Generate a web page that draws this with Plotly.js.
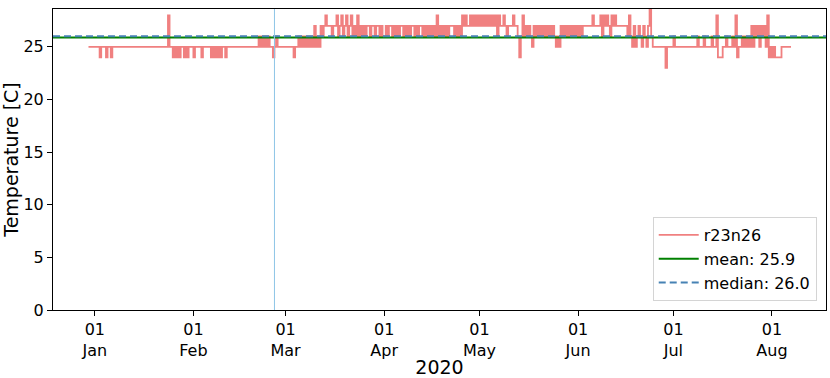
<!DOCTYPE html>
<html>
<head>
<meta charset="utf-8">
<script src="https://cdn.plot.ly/plotly-3.0.1.min.js"></script>
<style>
  html, body { margin: 0; padding: 0; background: #fff; }
  #chart { width: 830px; height: 378px; }
</style>
</head>
<body>
<div id="chart"></div>
<script>
// sensor r23n26: one reading every 12 h (00:00 and 12:00), degrees C
const tempDec = [25, 25, 25, 25]; // from 2019-12-30
const tempJan = [
  25, 25, 25, 24, 25, 25, 25, 24, 25, 25,
  24, 25, 25, 25, 25, 25, 25, 25, 25, 25,
  25, 25, 25, 25, 25, 25, 25, 25, 25, 25,
  25, 25, 25, 25, 25, 25, 25, 25, 25, 25,
  25, 25, 25, 25, 25, 25, 28, 25, 25, 24,
  25, 24, 25, 24, 25, 25, 24, 25, 24, 25,
  25, 25
];
const tempFeb = [
  24, 25, 25, 25, 25, 24, 25, 25, 25, 25,
  25, 24, 25, 24, 25, 24, 25, 24, 25, 25,
  24, 25, 25, 25, 25, 25, 25, 25, 25, 25,
  25, 25, 25, 25, 25, 25, 25, 25, 25, 25,
  25, 26, 25, 26, 25, 26, 25, 26, 25, 25,
  24, 25, 26, 25, 25, 25, 25, 25
];
const tempMar = [
  25, 25, 25, 25, 25, 24, 25, 25, 26, 25,
  26, 25, 26, 25, 26, 25, 26, 25, 27, 25,
  26, 25, 27, 26, 27, 28, 27, 27, 27, 26,
  27, 27, 28, 26, 27, 28, 26, 27, 28, 26,
  27, 28, 26, 27, 26, 28, 26, 27, 26, 27,
  26, 27, 27, 26, 27, 27, 26, 27, 27, 26,
  27, 26
];
const tempApr = [
  26, 27, 26, 27, 27, 26, 27, 26, 27, 26,
  27, 27, 26, 27, 26, 27, 26, 27, 27, 26,
  27, 26, 27, 27, 26, 27, 26, 27, 26, 27,
  26, 27, 26, 28, 26, 27, 26, 27, 26, 27,
  26, 27, 27, 27, 26, 27, 26, 27, 26, 28,
  27, 28, 27, 27, 28, 27, 28, 27, 28, 27
];
const tempMay = [
  28, 27, 28, 27, 28, 27, 28, 27, 28, 27,
  28, 26, 28, 27, 27, 28, 27, 26, 27, 27,
  27, 28, 27, 27, 26, 24, 26, 28, 26, 27,
  26, 27, 26, 25, 27, 26, 27, 26, 27, 26,
  27, 26, 27, 26, 27, 26, 27, 26, 25, 26,
  25, 27, 26, 27, 26, 27, 26, 27, 26, 27,
  26, 27
];
const tempJun = [
  26, 27, 26, 27, 27, 27, 27, 27, 27, 28,
  27, 27, 27, 27, 28, 26, 28, 27, 28, 27,
  26, 28, 27, 28, 27, 27, 27, 27, 27, 27,
  27, 26, 28, 26, 25, 27, 25, 26, 27, 26,
  25, 27, 26, 25, 27, 29, 26, 25, 25, 25,
  25, 25, 25, 25, 25, 23, 25, 25, 25, 25
];
const tempJul = [
  26, 25, 25, 25, 25, 25, 25, 25, 25, 25,
  25, 25, 25, 25, 25, 26, 25, 25, 25, 26,
  25, 25, 25, 25, 26, 25, 25, 28, 24, 24,
  24, 25, 25, 26, 25, 25, 25, 26, 25, 28,
  24, 25, 25, 26, 25, 26, 25, 26, 25, 27,
  25, 27, 26, 27, 25, 27, 26, 27, 25, 28,
  24, 25
];
const tempAug = [24, 25, 24, 24, 24, 24, 25, 25, 25, 25, 25, 25, 25];

const monthStarts = ["2019-12-30", "2020-01-01", "2020-02-01", "2020-03-01",
  "2020-04-01", "2020-05-01", "2020-06-01", "2020-07-01", "2020-08-01"];
const monthTemps = [tempDec, tempJan, tempFeb, tempMar, tempApr, tempMay,
  tempJun, tempJul, tempAug];

const meanTemp = 25.9;
const medianTemp = 26.0;
const eventDate = "2020-02-26 12:00";
const xRange = ["2019-12-18 20:00", "2020-08-18 00:00"];

// armar la serie de tiempo (paso de 12 h)
const times = [];
const temps = [];
monthStarts.forEach((start, m) => {
  const t0 = Date.parse(start + "T00:00:00Z");
  monthTemps[m].forEach((v, i) => {
    const d = new Date(t0 + i * 12 * 3600 * 1000);
    times.push(d.toISOString().slice(0, 16).replace("T", " "));
    temps.push(v);
  });
});

const font = "DejaVu Sans, sans-serif";

const traceData = {
  x: times,
  y: temps,
  mode: "lines",
  name: "r23n26",
  line: { color: "#f08080", width: 1.8, shape: "hv" },
};

const traceMean = {
  x: xRange,
  y: [meanTemp, meanTemp],
  mode: "lines",
  name: "mean: " + meanTemp.toFixed(1),
  line: { color: "#008000", width: 2 },
};

const traceMedian = {
  x: xRange,
  y: [medianTemp, medianTemp],
  mode: "lines",
  name: "median: " + medianTemp.toFixed(1),
  line: { color: "#4682b4", width: 2, dash: "7px,4px" },
};

const layout = {
  width: 830,
  height: 378,
  margin: { l: 53, r: 4, t: 9, b: 68 },
  paper_bgcolor: "#fff",
  plot_bgcolor: "#fff",
  font: { family: font, size: 16, color: "#000" },
  showlegend: true,
  legend: {
    x: 0.988,
    y: 0.03,
    xanchor: "right",
    yanchor: "bottom",
    bgcolor: "rgba(255,255,255,0.85)",
    bordercolor: "#d4d4d4",
    borderwidth: 1,
    itemwidth: 40,
    font: { family: font, size: 16 },
  },
  xaxis: {
    type: "date",
    range: xRange,
    tick0: "2020-01-01",
    dtick: "M1",
    tickformat: "%d<br>%b",
    ticks: "outside",
    ticklen: 5,
    tickcolor: "#000",
    showgrid: false,
    zeroline: false,
    showline: true,
    mirror: true,
    linecolor: "#000",
    linewidth: 1,
    title: { text: "2020", font: { family: font, size: 19 }, standoff: 4 },
  },
  yaxis: {
    range: [0, 28.6],
    dtick: 5,
    ticks: "outside",
    ticklen: 5,
    tickcolor: "#000",
    showgrid: false,
    zeroline: false,
    showline: true,
    mirror: true,
    linecolor: "#000",
    linewidth: 1,
    title: { text: "Temperature [C]", font: { family: font, size: 19 }, standoff: 8 },
  },
  shapes: [
    {
      type: "line",
      xref: "x",
      yref: "paper",
      x0: eventDate,
      x1: eventDate,
      y0: 0,
      y1: 1,
      line: { color: "#8ec5e6", width: 1 },
    },
  ],
};

Plotly.newPlot("chart", [traceData, traceMean, traceMedian], layout, {
  displayModeBar: false,
  staticPlot: true,
});
</script>
</body>
</html>
